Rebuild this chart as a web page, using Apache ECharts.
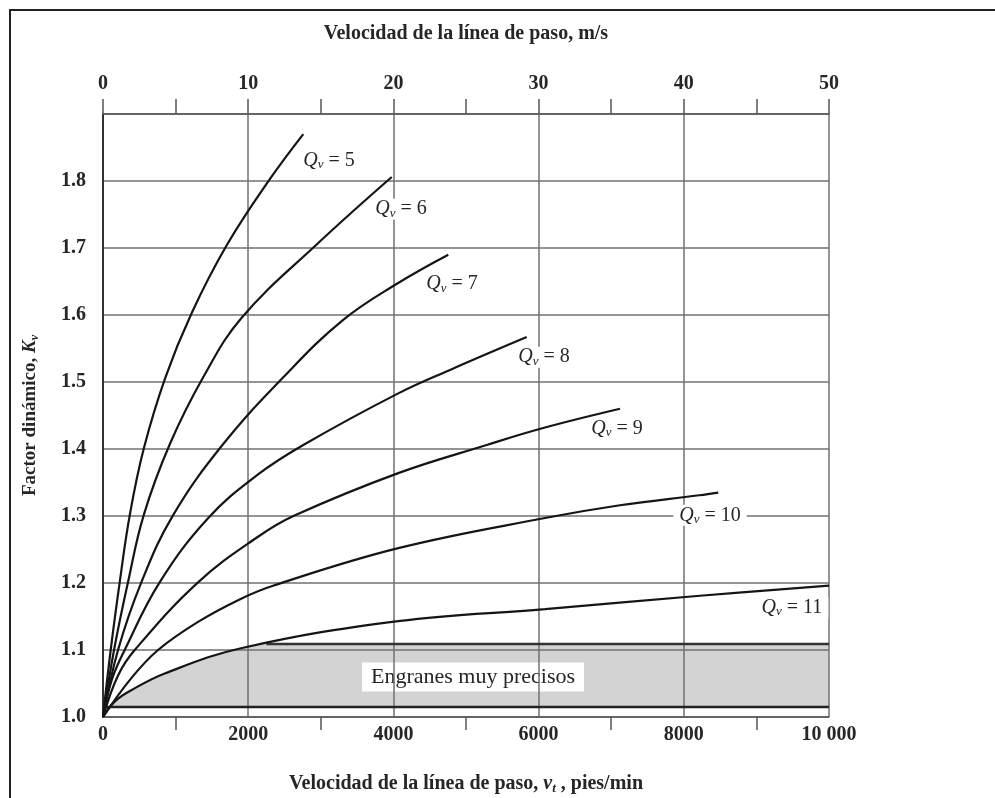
<!DOCTYPE html>
<html><head><meta charset="utf-8">
<script src="https://cdn.jsdelivr.net/npm/echarts@6/dist/echarts.min.js"></script>
<style>html,body{margin:0;padding:0;background:#fff}#c{width:995px;height:798px}</style>
</head><body><div id="c"></div>
<script>
// Curves: [velocity ft/min, Kv]
const qv5  = [[0,1.0],[106,1.100],[230,1.201],[368,1.301],[560,1.400],[860,1.507],[1222,1.603],[1704,1.704],[2300,1.803],[2759,1.870]];
const qv6  = [[0,1.0],[152,1.100],[344,1.201],[560,1.301],[920,1.407],[1380,1.507],[1910,1.596],[2950,1.706],[3977,1.806]];
const qv7  = [[0,1.0],[207,1.100],[528,1.201],[964,1.301],[1653,1.407],[2483,1.507],[3300,1.592],[4054,1.647],[4756,1.690]];
const qv8  = [[0,1.0],[120,1.055],[299,1.100],[780,1.201],[1450,1.297],[2135,1.362],[2759,1.406],[4067,1.483],[4780,1.518],[5836,1.567]];
const qv9  = [[0,1.0],[207,1.062],[437,1.100],[1309,1.201],[2135,1.269],[2645,1.301],[4067,1.364],[5285,1.406],[6088,1.432],[7121,1.460]];
const qv10 = [[0,1.0],[390,1.058],[758,1.100],[1309,1.142],[1910,1.177],[2342,1.196],[4067,1.252],[6088,1.297],[7121,1.316],[8213,1.331],[8475,1.335]];
const qv11 = [[0,1.0],[161,1.023],[390,1.040],[850,1.065],[1915,1.103],[4067,1.143],[6088,1.161],[8223,1.181],[10000,1.196]];
const curves = [qv5, qv6, qv7, qv8, qv9, qv10, qv11];
const qvNames = ['5','6','7','8','9','10','11'];
// Shaded "very precise gears" zone
const zoneTop = [[80,1.015],[161,1.023],[390,1.040],[850,1.065],[1915,1.103],[2250,1.109],[10000,1.109]];
const zoneBottomK = 1.015;
const zoneTopLine = [[2250,1.109],[10000,1.109]];
const zoneBottomLine = [[0,1.015],[10000,1.015]];
const zoneLabel = [5096,1.0597];
// Qv label anchors
const qvLabelAt = [[3113,1.830],[4105,1.758],[4807,1.646],[6074,1.537],[7080,1.430],[8361,1.301],[9490,1.163]];
// Axis ranges
const xFtMin = 0, xFtMax = 10000, xFtStep = 2000;
const xMsMin = 0, xMsMax = 50, xMsStep = 10;
const yMin = 1.0, yMax = 1.9, yStep = 0.1;

const SERIF = '"Liberation Serif","DejaVu Serif",serif';
const TXT = '#262626';
const GRID = '#707070';

const chart = echarts.init(document.getElementById('c'));
const rich = {
  q: {fontFamily: SERIF, fontStyle: 'italic', fontSize: 20, color: TXT, lineHeight: 21},
  s: {fontFamily: SERIF, fontStyle: 'italic', fontSize: 13, color: TXT, verticalAlign: 'bottom', lineHeight: 21},
  t: {fontFamily: SERIF, fontSize: 20, color: TXT, lineHeight: 21}
};
const series = [];
series.push({
  type: 'line', data: zoneTop, z: -2, symbol: 'none', silent: true, smooth: 0.4,
  lineStyle: {width: 0}, areaStyle: {color: '#d3d3d3', opacity: 1, origin: zoneBottomK}
});
series.push({
  type: 'scatter', z: -1, symbolSize: 0, silent: true,
  itemStyle: {opacity: 1},
  data: [{value: zoneLabel}],
  label: {show: true, position: 'inside', formatter: 'Engranes muy precisos', opacity: 1,
    fontFamily: SERIF, fontSize: 22, color: TXT, backgroundColor: '#fff', padding: [4, 9, 3, 9]}
});
series.push({
  type: 'scatter', symbolSize: 0, z: 4, silent: true,
  itemStyle: {opacity: 1},
  data: qvLabelAt.map((p, i) => ({value: p, label: {formatter: '{q|Q}{s|v}{t| = ' + qvNames[i] + '}'}})),
  label: {show: true, position: 'inside', color: TXT, opacity: 1, backgroundColor: '#fff', padding: [0, 6, 0, 6], rich: rich}
});
curves.forEach((c) => {
  series.push({type: 'line', data: c, symbol: 'none', smooth: 0.4,
    lineStyle: {color: '#151515', width: 2.2}, z: 5});
});
series.push({type: 'line', data: zoneTopLine, symbol: 'none', lineStyle: {color: '#333', width: 2.5}, z: 3});
series.push({type: 'line', data: zoneBottomLine, symbol: 'none', lineStyle: {color: '#222', width: 2.5}, z: 3});

chart.setOption({
  animation: false,
  backgroundColor: '#fff',
  graphic: [{type: 'rect', shape: {x: 10, y: 10, width: 1200, height: 1200},
    style: {fill: 'none', stroke: '#222', lineWidth: 2}, z: 100, silent: true}],
  grid: {left: 103, right: 166, top: 114, bottom: 81, containLabel: false, outerBoundsMode: 'none'},
  xAxis: [{
    type: 'value', position: 'bottom', min: xFtMin, max: xFtMax, interval: xFtStep,
    axisLine: {show: true, lineStyle: {color: '#555', width: 1.5}},
    axisTick: {show: false},
    minorTick: {show: true, splitNumber: 2, length: 13, lineStyle: {color: '#555', width: 1.5}},
    splitLine: {show: true, lineStyle: {color: GRID, width: 1.5}},
    axisLabel: {margin: 8, fontFamily: SERIF, fontWeight: 'bold', fontSize: 20, color: TXT,
      formatter: v => v === 10000 ? '10 000' : String(v)},
    name: '{b|Velocidad de la línea de paso, }{i|v}{s|t}{b| , pies/min}',
    nameLocation: 'middle', nameGap: 56, nameMoveOverlap: false,
    nameTextStyle: {rich: {
      b: {fontFamily: SERIF, fontWeight: 'bold', fontSize: 20, color: TXT, lineHeight: 22},
      i: {fontFamily: SERIF, fontWeight: 'bold', fontStyle: 'italic', fontSize: 20, color: TXT, lineHeight: 22},
      s: {fontFamily: SERIF, fontWeight: 'bold', fontStyle: 'italic', fontSize: 13, color: TXT, verticalAlign: 'bottom', lineHeight: 22}
    }}
  }, {
    type: 'value', position: 'top', min: xMsMin, max: xMsMax, interval: xMsStep,
    axisLine: {show: true, lineStyle: {color: '#555', width: 1.5}},
    axisTick: {show: true, length: 15, lineStyle: {color: '#555', width: 1.5}},
    minorTick: {show: true, splitNumber: 2, length: 15, lineStyle: {color: '#555', width: 1.5}},
    splitLine: {show: false},
    axisLabel: {margin: 20, fontFamily: SERIF, fontWeight: 'bold', fontSize: 20, color: TXT},
    name: 'Velocidad de la línea de paso, m/s',
    nameLocation: 'middle', nameGap: 70, nameMoveOverlap: false,
    nameTextStyle: {fontFamily: SERIF, fontWeight: 'bold', fontSize: 20, color: TXT}
  }],
  yAxis: {
    type: 'value', min: yMin, max: yMax, interval: yStep,
    axisLine: {show: true, lineStyle: {color: '#333', width: 2}},
    axisTick: {show: false},
    splitLine: {show: true, lineStyle: {color: GRID, width: 1.5}},
    axisLabel: {margin: 17, fontFamily: SERIF, fontWeight: 'bold', fontSize: 20, color: TXT,
      formatter: v => v > 1.85 ? '' : v.toFixed(1)},
    name: '{b|Factor dinámico, }{k|K}{s|v}',
    nameLocation: 'middle', nameGap: 62, nameMoveOverlap: false,
    nameTextStyle: {rich: {
      b: {fontFamily: SERIF, fontWeight: 'bold', fontSize: 19, color: TXT, lineHeight: 22},
      k: {fontFamily: SERIF, fontWeight: 'bold', fontStyle: 'italic', fontSize: 19, color: TXT, lineHeight: 22},
      s: {fontFamily: SERIF, fontWeight: 'bold', fontStyle: 'italic', fontSize: 12, color: TXT, verticalAlign: 'bottom', lineHeight: 22}
    }}
  },
  series: series
});
</script></body></html>
